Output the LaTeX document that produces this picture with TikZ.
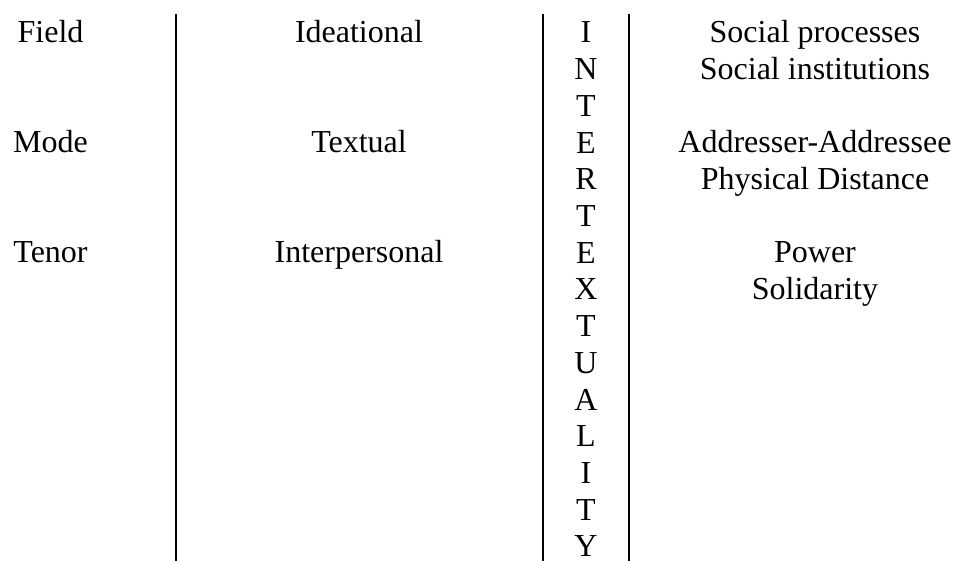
\documentclass[tikz,border=0pt]{standalone}
\usepackage{fontspec}
\setmainfont{Liberation Serif}
\usetikzlibrary{positioning}
\tikzset{
    celltext/.style={anchor=base, inner sep=0pt, font=\fontsize{16}{19}\selectfont},
    colrule/.style={line width=1pt}
}

\begin{document}
\begin{tikzpicture}[x=0.5pt,y=-0.5pt]
\useasboundingbox (0,0) rectangle (955,561);
% register column
\node[celltext] (field) at (50.5,43) {Field};
\node[celltext] (mode) at (50.5,153) {Mode};
\node[celltext] (tenor) at (50.5,263) {Tenor};
% metafunction column
\node[celltext] (ideational) at (359,43) {Ideational};
\node[celltext] (textual) at (359,153) {Textual};
\node[celltext] (interpersonal) at (359,263) {Interpersonal};
% vertical word
\foreach \ch [count=\k from 0] in {I,N,T,E,R,T,E,X,T,U,A,L,I,T,Y}
    \node[celltext] (letter\k) at (586,43+36.71*\k) {\ch};
% context column
\node[celltext] (procs) at (815,43) {Social processes};
\node[celltext] (insts) at (815,80) {Social institutions};
\node[celltext] (addr) at (815,153) {Addresser-Addressee};
\node[celltext] (dist) at (815,190) {Physical Distance};
\node[celltext] (power) at (815,263) {Power};
\node[celltext] (solid) at (815,300) {Solidarity};
% column rules
\coordinate (ruleAtop) at (175.7,14);
\coordinate (ruleAbot) at (175.7,561);
\coordinate (ruleBtop) at (543.3,14);
\coordinate (ruleBbot) at (543.3,561);
\coordinate (ruleCtop) at (629,14);
\coordinate (ruleCbot) at (629,561);
\draw[colrule] (ruleAtop) -- (ruleAbot);
\draw[colrule] (ruleBtop) -- (ruleBbot);
\draw[colrule] (ruleCtop) -- (ruleCbot);
\end{tikzpicture}
\end{document}
